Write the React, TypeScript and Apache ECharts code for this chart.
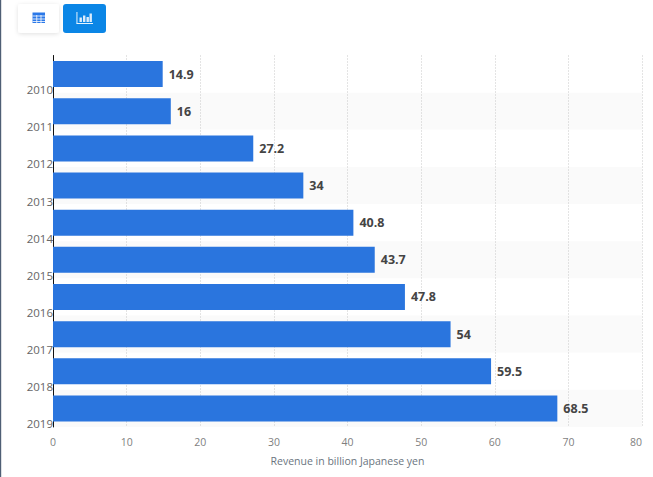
import React, { useEffect, useRef } from "react";
import * as echarts from "echarts";

const years = ["2010", "2011", "2012", "2013", "2014", "2015", "2016", "2017", "2018", "2019"];
const revenue = [14.9, 16, 27.2, 34, 40.8, 43.7, 47.8, 54, 59.5, 68.5];
const axisTitle = "Revenue in billion Japanese yen";
const FONT = "'Open Sans', sans-serif";

export default function App() {
  const ref = useRef<HTMLDivElement>(null);
  useEffect(() => {
    const chart = echarts.init(ref.current!, undefined, { renderer: "svg" });
    const white = "#ffffff";
    const blue = "#0b86e6";
    const iconBlue = "#2a78e8";
    const tableLines: any[] = [];
    [15.6, 18.6, 21].forEach((y) => {
      tableLines.push({ type: "rect", shape: { x: 32.5, y, width: 12.5, height: 0.8 }, style: { fill: white } });
    });
    [36.4, 40.6].forEach((x) => {
      tableLines.push({ type: "rect", shape: { x, y: 15, width: 0.8, height: 8 }, style: { fill: white } });
    });
    const barIcons = [[79.5, 4.5], [83, 6.5], [86.5, 5], [89.5, 8.5]].map(([x, h]: number[]) => ({
      type: "rect", shape: { x, y: 22 - h, width: 2.4, height: h }, style: { fill: "#dcecfb" },
    }));
    chart.setOption({
      animation: false,
      backgroundColor: "#ffffff",
      textStyle: { fontFamily: FONT },
      grid: { left: 53, right: 11, top: 55.5, bottom: 50, containLabel: false },
      xAxis: {
        type: "value", min: 0, max: 80, interval: 10,
        name: axisTitle, nameLocation: "middle", nameGap: 28,
        nameTextStyle: { color: "#6b7580", fontSize: 10.5, fontFamily: FONT },
        axisLine: { show: false }, axisTick: { show: false },
        axisLabel: { color: "#7f7f7f", fontSize: 10.5, margin: 9, fontFamily: FONT, alignMaxLabel: "right" },
        splitLine: { show: true, lineStyle: { color: "#c8c8c8", type: [1, 2], width: 1 } },
      },
      yAxis: {
        type: "category", data: years, inverse: true,
        axisLine: { show: true, onZero: false, lineStyle: { color: "#111111", width: 1 } },
        axisTick: { show: false },
        axisLabel: { color: "#666666", fontSize: 11.5, margin: 0, fontFamily: FONT, verticalAlign: "top", lineHeight: 31 },
        splitArea: { show: true, areaStyle: { color: ["#ffffff", "#fafafa"] } },
      },
      series: [{
        type: "bar", data: revenue, barWidth: 26,
        itemStyle: { color: "#2a75de" },
        label: { show: true, position: "right", distance: 6, color: "#444444", fontSize: 12.5, fontWeight: "bold", fontFamily: FONT, formatter: "{c}" },
      }],
      graphic: [
        { type: "rect", shape: { x: 0, y: 0, width: 1.2, height: 477 }, style: { fill: "#4f5f75" } },
        { type: "rect", shape: { x: 18, y: 4, width: 41, height: 29, r: 3 }, style: { fill: white, shadowBlur: 4, shadowColor: "rgba(0,0,0,0.12)", shadowOffsetY: 1 } },
        { type: "rect", shape: { x: 63, y: 4, width: 43, height: 29, r: 3 }, style: { fill: blue } },
        { type: "rect", shape: { x: 32.5, y: 12.5, width: 12.5, height: 10.5 }, style: { fill: iconBlue } },
        ...tableLines,
        { type: "rect", shape: { x: 76.5, y: 12, width: 0.9, height: 11.5 }, style: { fill: white } },
        { type: "rect", shape: { x: 76.5, y: 23, width: 16.5, height: 0.9 }, style: { fill: white } },
        ...barIcons,
      ],
    });
    return () => chart.dispose();
  }, []);
  return <div ref={ref} style={{ position: "absolute", left: 0, top: 0, width: 653, height: 477 }} />;
}
